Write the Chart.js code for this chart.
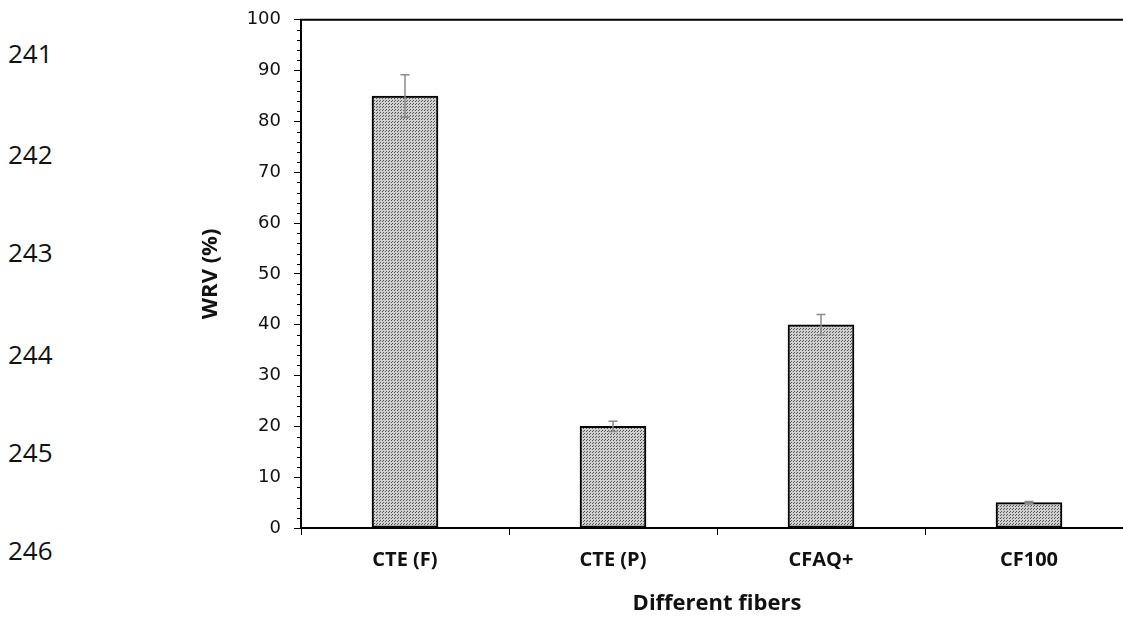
<!DOCTYPE html>
<html>
<head>
<meta charset="utf-8">
<script src="https://cdn.jsdelivr.net/npm/chart.js@4.4.0/dist/chart.umd.min.js"></script>
<style>
  html, body { margin: 0; padding: 0; background: #fff; overflow: hidden; width: 1123px; height: 619px; }
  .lineno { position: absolute; left: 8px; font-family: 'Open Sans', sans-serif; font-size: 26px; color: #111; line-height: 1; }
  #wrap { position: absolute; left: 190px; top: -4px; width: 950px; height: 623px; }
</style>
</head>
<body>
<div class="lineno" style="top:40px">241</div>
<div class="lineno" style="top:141px">242</div>
<div class="lineno" style="top:239px">243</div>
<div class="lineno" style="top:341px">244</div>
<div class="lineno" style="top:439px">245</div>
<div class="lineno" style="top:537px">246</div>
<div id="wrap"><canvas id="chart"></canvas></div>
<script>
// Data
const fibers = ['CTE (F)', 'CTE (P)', 'CFAQ+', 'CF100'];
const wrvValues = [85, 20, 40, 5];
const wrvErrors = [4.2, 1.0, 2.0, 0.2];

// dotted gray fill like the original bars
function makePattern() {
    const c = document.createElement('canvas');
    c.width = 3;
    c.height = 3;
    const g = c.getContext('2d');
    g.fillStyle = '#d0d0d0';
    g.fillRect(0, 0, 3, 3);
    g.fillStyle = '#555';
    g.fillRect(0, 0, 1, 1);
    g.fillRect(1, 2, 1, 1);
    return g.createPattern(c, 'repeat');
}

// error bars, minor y ticks and top frame line
const extras = {
    id: 'extras',
    afterDatasetsDraw(chart) {
        const ctx = chart.ctx;
        const y = chart.scales.y;
        const meta = chart.getDatasetMeta(0);
        ctx.save();
        ctx.strokeStyle = '#8a8a8a';
        ctx.lineWidth = 1.5;
        meta.data.forEach((bar, i) => {
            const top = y.getPixelForValue(wrvValues[i] + wrvErrors[i]);
            const bot = y.getPixelForValue(wrvValues[i] - wrvErrors[i]);
            ctx.beginPath();
            ctx.moveTo(bar.x, top);
            ctx.lineTo(bar.x, bot);
            ctx.moveTo(bar.x - 4.5, top);
            ctx.lineTo(bar.x + 4.5, top);
            ctx.moveTo(bar.x - 4.5, bot);
            ctx.lineTo(bar.x + 4.5, bot);
            ctx.stroke();
        });
        ctx.restore();
    },
    afterDraw(chart) {
        const ctx = chart.ctx;
        const y = chart.scales.y;
        const area = chart.chartArea;
        ctx.save();
        ctx.strokeStyle = '#000';
        ctx.lineWidth = 1;
        for (let v = 0; v <= 100; v += 2) {
            if (v % 10 === 0) continue;
            const py = Math.round(y.getPixelForValue(v)) + 0.5;
            ctx.beginPath();
            ctx.moveTo(area.left - 4, py);
            ctx.lineTo(area.left, py);
            ctx.stroke();
        }
        ctx.lineWidth = 2;
        ctx.beginPath();
        ctx.moveTo(area.left - 1, area.top);
        ctx.lineTo(area.right, area.top);
        ctx.stroke();
        ctx.restore();
    }
};

const ctx = document.getElementById('chart').getContext('2d');
const chart = new Chart(ctx, {
    type: 'bar',
    data: {
        labels: fibers,
        datasets: [{
            data: wrvValues,
            backgroundColor: makePattern(),
            borderColor: '#000',
            borderWidth: 2,
            borderSkipped: false,
            barThickness: 66
        }]
    },
    options: {
        responsive: true,
        maintainAspectRatio: false,
        animation: false,
        layout: { padding: { top: 13, right: 7, bottom: 0, left: 0 } },
        plugins: {
            legend: { display: false },
            tooltip: { enabled: false }
        },
        scales: {
            x: {
                afterFit(scale) { scale.height = 91; },
                grid: {
                    offset: true,
                    drawOnChartArea: false,
                    tickLength: 7,
                    tickColor: '#000',
                    tickWidth: 1
                },
                border: { color: '#000', width: 2 },
                ticks: {
                    color: '#111',
                    padding: 13,
                    font: { family: "'Open Sans', sans-serif", size: 20, weight: 'bold' }
                },
                title: {
                    display: true,
                    text: 'Different fibers',
                    color: '#111',
                    padding: { top: 0, bottom: 2 },
                    font: { family: "'Open Sans', sans-serif", size: 22, weight: 'bold' }
                }
            },
            y: {
                min: 0,
                max: 100,
                afterFit(scale) { scale.width = 111; },
                grid: {
                    drawOnChartArea: false,
                    tickLength: 7,
                    tickColor: '#000',
                    tickWidth: 1
                },
                border: { color: '#000', width: 2 },
                ticks: {
                    stepSize: 10,
                    color: '#111',
                    padding: 13,
                    font: { family: "'DejaVu Sans', sans-serif", size: 18 }
                },
                title: {
                    display: true,
                    text: 'WRV (%)',
                    color: '#111',
                    padding: { top: 8, bottom: 0 },
                    font: { family: "'Open Sans', sans-serif", size: 22, weight: 'bold' }
                }
            }
        }
    },
    plugins: [extras]
});
</script>
</body>
</html>
